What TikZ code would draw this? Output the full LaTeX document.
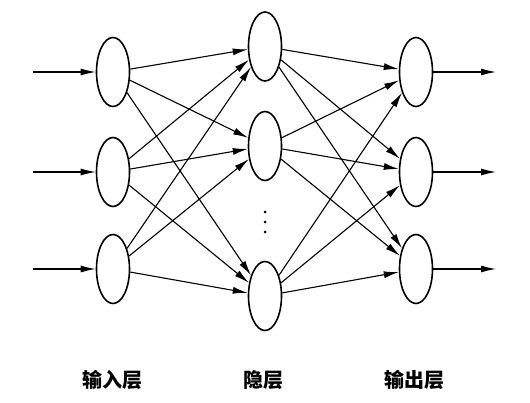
\documentclass[tikz,border=0pt]{standalone}
\usepackage{fontspec}
\newfontfamily\cjk{Noto Sans CJK SC}
\usetikzlibrary{shapes.geometric,arrows.meta}
\begin{document}
\begin{tikzpicture}[x=1pt,y=-1pt,
  neuron/.style={draw,ellipse,line width=1.6pt,minimum width=33pt,minimum height=69pt,inner sep=0pt},
  conn/.style={line width=1.1pt,-{Latex[length=15pt,width=7pt]}},
  lbl/.style={font=\cjk\bfseries\fontsize{20}{22}\selectfont}]
\useasboundingbox (0,0) rectangle (530,403);
\node[neuron] (i1) at (113,72) {};
\node[neuron] (i2) at (113,172) {};
\node[neuron] (i3) at (113,269) {};
\node[neuron] (h1) at (265,46.5) {};
\node[neuron] (h2) at (265,146) {};
\node[neuron] (h3) at (265,296) {};
\node[neuron] (o1) at (416,72) {};
\node[neuron] (o2) at (416,172) {};
\node[neuron] (o3) at (416,269) {};
\coordinate (a1) at (33,72);
\coordinate (a2) at (33,172);
\coordinate (a3) at (33,269);
\coordinate (b1) at (496,72);
\coordinate (b2) at (496,172);
\coordinate (b3) at (496,269);
\foreach \k in {1,2,3} {
  \draw[conn] (a\k) -- (i\k);
  \draw[conn] (o\k) -- (b\k);
  \foreach \j in {1,2,3} {
    \draw[conn] (i\k) -- (h\j);
    \draw[conn] (h\k) -- (o\j);
  }
}
\node[circle,fill,inner sep=0pt,minimum size=3pt] (d1) at (265,212) {};
\node[circle,fill,inner sep=0pt,minimum size=3pt] (d2) at (265,222) {};
\node[circle,fill,inner sep=0pt,minimum size=3pt] (d3) at (265,232) {};
\node[lbl] (l1) at (112,380) {输入层};
\node[lbl] (l2) at (263,380) {隐层};
\node[lbl] (l3) at (414,380) {输出层};
\end{tikzpicture}
\end{document}
